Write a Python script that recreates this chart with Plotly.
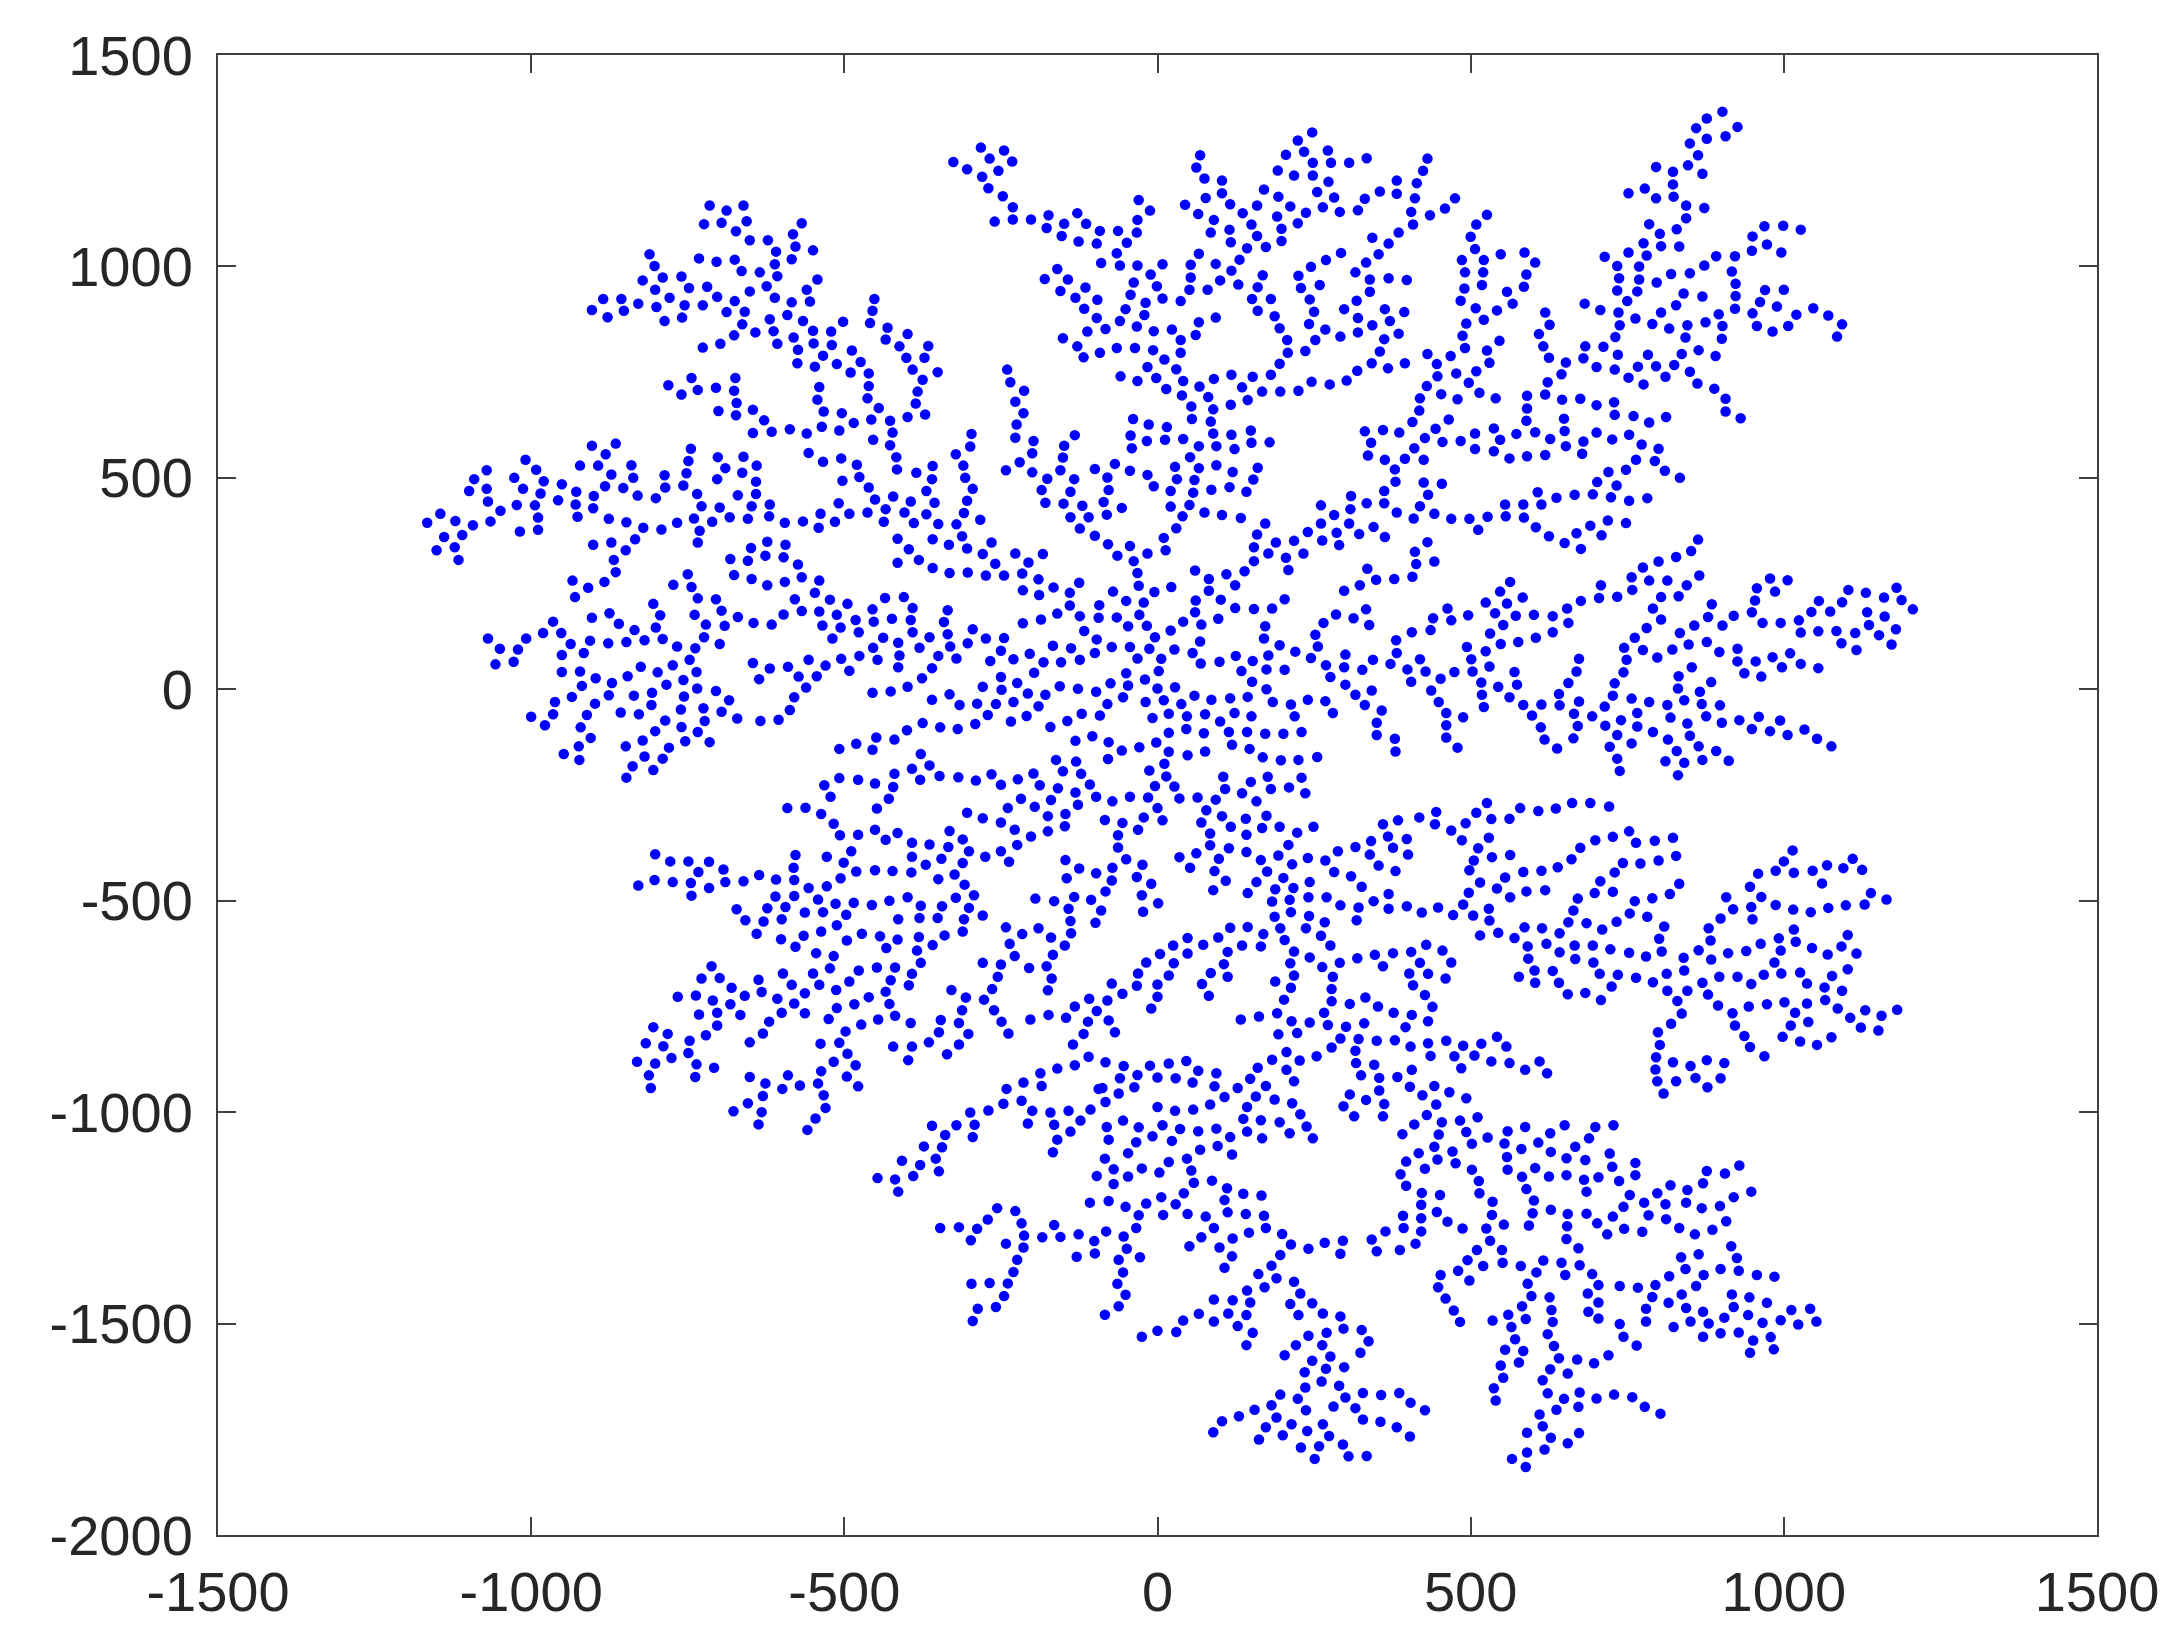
import plotly.graph_objects as go

# points, grouped by area of the plot (x, y)
upper_left = [(-715,1144),(-688,1132),(-661,1144),(-724,1100),(-696,1103),(-656,1107),(-673,1083),(-651,1062),(-622,1062),(-568,1102),
(-582,1076),(-578,1047),(-609,1035),(-550,1038),(-584,1017),(-611,1005),(-607,977),(-664,989),(-635,986),(-675,1016),
(-704,1011),(-732,1019),(-811,1029),(-803,1001),(-790,974),(-822,967),(-760,976),(-748,949),(-802,945),(-719,952),
(-703,928),(-779,926),(-651,941),(-624,953),(-611,926),(-675,918),(-584,915),(-555,917),(-560,945),(-543,969),
(-885,923),(-856,923),(-903,897),(-878,880),(-852,895),(-829,912),(-800,904),(-755,908),(-726,908),(-787,871),
(-759,879),(-688,892),(-659,893),(-663,863),(-619,875),(-591,885),(-566,871),(-550,848),(-521,846),(-502,869),
(-459,866),(-455,895),(-452,923),(-431,855),(-434,827),(-412,811),(-642,844),(-613,847),(-676,837),(-698,817),
(-726,808),(-607,817),(-581,832),(-574,803),(-549,818),(-520,814),(-534,789),(-488,801),(-474,774),(-575,771),
(-547,763),(-512,769),(-490,749),(-461,747),(-461,717),(-463,688),(-445,665),(-457,638),(-427,635),(-423,607),
(-454,590),(-427,577),(-417,549),(-416,520),(-540,715),(-543,685),(-533,657),(-504,653),(-485,630),(-536,621),
(-508,612),(-560,605),(-587,615),(-616,609),(-646,606),(-628,636),(-646,661),(-673,648),(-672,677),(-676,706),
(-674,736),(-705,713),(-701,658),(-744,736),(-734,708),(-781,719),(-760,697),(-557,559),(-534,538),(-505,546),
(-480,531),(-476,502),(-503,493),(-461,477),(-451,449),(-422,456),(-434,426),(-463,418),(-437,396),(-492,415),
(-509,440),(-515,396),(-538,415),(-541,382),(-566,397),(-595,394),(-620,409),(-619,437),(-648,433),(-641,462),
(-670,459),(-641,491),(-663,512),(-640,529),(-661,550),(-690,523),(-702,549),(-703,497),(-745,569),(-749,540),
(-752,511),(-757,482),(-735,462),(-728,433),(-699,430),(-683,407),(-654,403),(-711,396),(-740,404),(-731,375),
(-734,347),(-767,394),(-792,378),(-821,382),(-834,355),(-849,329),(-872,347),(-901,342),(-868,306),(-865,277),
(-883,254),(-909,240),(-934,257),(-848,395),(-876,403),(-926,408),(-901,428),(-929,437),(-928,467),(-900,457),
(-882,480),(-853,476),(-830,458),(-801,452),(-786,477),(-787,506),(-837,500),(-840,530),(-872,508),(-893,529),
(-922,529),(-881,556),(-865,581),(-903,576),(-957,447),(-951,485),(-980,492),(-985,463),(-992,519),(-1009,543),
(-1027,500),(-1013,474),(-1023,436),(-994,435),(-989,406),(-989,377),(-1018,373),(-1049,422),(-1065,397),(-1069,444),
(-1071,474),(-1071,518),(-1091,497),(-1099,469),(-1093,388),(-1110,365),(-1121,398),(-1145,415),(-1166,394),(-1139,360),
(-1151,329),(-1122,336),(-1116,306),(-623,349),(-594,342),(-649,334),(-626,316),(-597,312),(-682,308),(-654,304),
(-574,295),(-415,356),(-415,299),(-676,270),(-648,261),(-623,246),(-595,254),(-568,265),(-540,257),(-547,228),
(-750,272),(-773,247),(-744,242)]

middle_left = [(-930,218),(-805,202),(-734,215),(-705,213),(-579,213),(-523,212),(-495,202),(-435,216),(-794,175),(-875,180),
(-903,169),(-965,160),(-860,155),(-739,176),(-696,186),(-670,171),(-645,157),(-616,153),(-597,177),(-568,185),
(-540,184),(-512,176),(-482,164),(-455,189),(-453,160),(-424,167),(-535,151),(-506,146),(-477,135),(-835,140),
(-801,146),(-721,153),(-691,150),(-981,133),(-952,133),(-1008,120),(-1069,120),(-724,123),(-519,120),(-438,122),
(-414,110),(-937,107),(-906,115),(-877,109),(-848,112),(-819,116),(-790,119),(-767,101),(-738,97),(-699,107),
(-454,98),(-1050,96),(-1021,94),(-951,81),(-916,86),(-747,70),(-557,70),(-505,72),(-476,79),(-447,70),
(-412,80),(-1057,59),(-1028,65),(-646,62),(-619,49),(-590,53),(-530,56),(-492,44),(-414,52),(-774,57),
(-825,53),(-951,41),(-922,42),(-798,40),(-736,41),(-846,31),(-897,26),(-573,30),(-544,31),(-636,24),
(-757,22),(-871,15),(-784,11),(-919,8),(-561,4),(-735,2),(-705,-4),(-807,-8),(-455,-8),(-426,-5),
(-935,-18),(-876,-14),(-836,-15),(-756,-17),(-580,-19),(-684,-26),(-962,-30),(-898,-34),(-808,-37),(-761,-48),
(-725,-45),(-587,-49),(-696,-53),(-1000,-65),(-965,-59),(-911,-61),(-857,-55),(-828,-59),(-786,-74),(-723,-75),
(-671,-69),(-634,-75),(-605,-72),(-978,-85),(-921,-90),(-760,-89),(-802,-99),(-734,-101),(-905,-115),(-822,-121),
(-754,-123),(-715,-125),(-449,-114),(-420,-119),(-481,-129),(-924,-135),(-849,-135),(-780,-138),(-508,-141),(-455,-143),
(-948,-153),(-819,-159),(-790,-164),(-923,-167),(-838,-182),(-805,-191),(-848,-209),(-420,-200),(-508,-210),(-478,-214),
(-451,-223),(-532,-227),(-422,-231),(-522,-254),(-429,-259),(-591,-281),(-562,-280),(-448,-282),(-537,-295),(-517,-318),
(-451,-332),(-415,-340),(-507,-345),(-478,-344),(-434,-356),(-489,-383),(-802,-390),(-578,-392),(-528,-396),(-778,-407),
(-749,-407),(-716,-408),(-501,-410),(-581,-422),(-693,-426),(-733,-432),(-481,-431),(-451,-428),(-423,-430),(-636,-439),
(-506,-447),(-580,-451),(-609,-450),(-803,-451),(-774,-456),(-745,-458),(-690,-456),(-661,-454),(-829,-464),(-716,-470),
(-557,-470),(-528,-466),(-744,-488),(-610,-490),(-580,-489),(-542,-497),(-428,-500),(-514,-507),(-485,-505),(-456,-510),
(-672,-520),(-623,-518),(-594,-515),(-563,-528),(-534,-527),(-497,-533),(-658,-546),(-629,-549),(-600,-544),(-414,-544),
(-512,-558),(-640,-578),(-537,-573),(-601,-591),(-565,-583),(-472,-578),(-443,-584),(-415,-592),(-496,-594),(-578,-609),
(-433,-612),(-545,-624),(-517,-631),(-712,-655),(-523,-660),(-477,-665),(-448,-658),(-419,-658),(-550,-672),(-598,-672),
(-728,-684),(-699,-683),(-637,-687),(-426,-688),(-492,-691),(-584,-699),(-540,-699),(-680,-706),(-513,-711),(-632,-716),
(-563,-719),(-434,-715),(-766,-727),(-737,-724),(-659,-725),(-710,-736),(-607,-732),(-461,-728),(-682,-745),(-580,-743),
(-484,-745),(-428,-744),(-512,-754),(-732,-769),(-703,-765),(-666,-770),(-600,-765),(-563,-766),(-419,-772),(-525,-780),
(-446,-781),(-620,-786),(-473,-793),(-703,-795),(-805,-799),(-498,-809),(-782,-815),(-721,-818),(-630,-814),(-747,-831),
(-817,-837),(-789,-844),(-651,-835),(-538,-838),(-508,-836),(-422,-845)]

lower_left = [(-776,-872),(-831,-881),(-802,-885),(-749,-860),(-736,-887),(-708,-895),(-812,-913),(-809,-943),(-738,-917),(-651,-917),
(-626,-932),(-590,-913),(-599,-945),(-571,-937),(-542,-932),(-537,-903),(-517,-881),(-495,-862),(-482,-889),(-496,-916),
(-478,-939),(-533,-960),(-630,-962),(-654,-979),(-677,-998),(-632,-1000),(-637,-1029),(-530,-990),(-546,-1015),(-559,-1042),
(-398,-877),(-336,-863),(-110,-869),(-132,-889),(-160,-897),(-187,-908),(-214,-930),(-185,-938),(-241,-945),(-217,-973),
(-246,-980),(-270,-996),(-299,-1001),(-292,-1030),(-321,-1031),(-295,-1059),(-339,-1054),(-360,-1032),(-373,-1081),(-344,-1083),
(-354,-1110),(-408,-1115),(-379,-1125),(-349,-1140),(-390,-1151),(-447,-1156),(-419,-1159),(-414,-1188),(-200,-997),(-171,-1001),
(-142,-997),(-107,-994),(-207,-1027),(-165,-1030),(-123,-1020),(-139,-1046),(-160,-1065),(-167,-1095),(-97,-1151),(-108,-1214),
(-94,-945),(-256,-1227),(-227,-1234),(-271,-1254),(-217,-1263),(-347,-1274),(-317,-1272),(-288,-1276),(-298,-1303),(-213,-1292),
(-184,-1296),(-165,-1267),(-155,-1295),(-126,-1289),(-101,-1305),(-100,-1334),(-129,-1342),(-242,-1311),(-214,-1320),(-224,-1349),
(-230,-1378),(-239,-1405),(-268,-1404),(-297,-1406),(-245,-1435),(-258,-1461),(-287,-1465),(-295,-1494)]

upper_middle = [(-282,1281),(-245,1274),(-268,1255),(-232,1248),(-326,1247),(-304,1230),(-254,1226),(-280,1212),(-270,1185),(-247,1166),
(-231,1140),(-231,1111),(-260,1106),(-202,1111),(-174,1121),(-177,1091),(-149,1101),(-153,1072),(-128,1126),(-114,1101),
(-92,1084),(-126,1059),(-97,1054),(-63,1084),(-33,1080),(-32,1110),(-12,1132),(-30,1157),(-49,1056),(-65,1031),
(-90,1008),(-60,1002),(-32,1002),(8,1005),(-11,981),(-38,962),(-1,953),(-43,933),(8,924),(-19,914),
(37,918),(-51,899),(-21,885),(-60,871),(-33,858),(-6,847),(23,851),(-83,852),(-112,846),(-97,878),
(-117,900),(-96,921),(-131,926),(-115,950),(-155,942),(-143,969),(-180,970),(-160,994),(-151,830),(-128,811),
(-118,785),(-92,796),(-65,807),(-36,807),(-7,802),(37,826),(37,796),(61,838),(66,868),(93,879),
(11,780),(30,757),(-16,762),(-2,736),(-59,740),(-32,729),(41,729),(14,710),(39,695),(67,716),
(90,734),(81,691),(54,669),(89,662),(117,673),(55,639),(85,633),(118,744),(152,739),(135,714),
(167,704),(144,684),(181,744),(196,704),(225,706),(246,727),(275,721),(302,730),(319,753),(342,771),
(368,759),(195,770),(208,796),(207,826),(195,854),(187,882),(160,895),(181,923),(151,923),(160,951),
(168,979),(129,957),(100,967),(80,945),(118,990),(131,1016),(143,1043),(173,1046),(198,1060),(198,1089),
(191,1118),(224,1102),(237,1127),(212,1142),(193,1165),(170,1182),(159,1072),(150,1099),(136,1126),(159,1144),
(116,1147),(103,1173),(103,1203),(75,1208),(62,1234),(68,1263),(77,1162),(44,1146),(65,1124),(90,1110),
(115,1087),(85,1080),(117,1057),(66,1030),(53,1004),(93,1006),(53,974),(51,945),(192,1227),(218,1215),
(248,1215),(205,1264),(234,1271),(224,1298),(247,1317),(272,1274),(248,1245),(277,1245),(306,1245),(334,1256),
(273,1200),(255,1176),(282,1163),(264,1140),(291,1129),(320,1133),(331,1160),(355,1177),(382,1203),(382,1172),
(385,1080),(369,1054),(343,1068),(353,1029),(333,1009),(293,1032),(269,1015),(245,999),(225,978),(316,986),
(339,969),(369,972),(259,956),(229,949),(243,922),(339,940),(318,919),(298,899),(250,893),(363,899),
(320,878),(371,871),(242,864),(268,851),(343,861),(292,834),(320,844),(362,828),(252,826),(236,800),
(355,799),(385,841),(-39,639),(-14,626),(15,620),(-43,600),(-17,587),(12,590),(41,592),(-41,570),
(89,605),(118,602),(149,612),(150,583),(179,584),(123,568),(94,575),(66,575),(52,549),(28,526),
(66,523),(94,530),(31,497),(59,495),(120,514),(160,524),(153,496),(142,467),(115,478),(86,472),
(57,465),(21,469),(-6,480),(51,436),(21,432),(40,409),(75,418),(103,412),(133,405),(30,381),
(10,358),(13,329),(-16,321),(-44,339),(-64,316),(-38,303),(-32,275),(-79,343),(-100,363),(-124,380),
(-139,407),(-110,407),(-81,413),(-57,429),(-86,443),(-120,434),(-150,439),(-179,441),(-185,471),(-139,467),
(-78,471),(-176,498),(-133,497),(-80,501),(-155,518),(-100,521),(-68,533),(-44,517),(-16,507),(-151,548),
(-149,576),(-132,601),(-200,558),(-198,587),(-200,513),(-220,537),(-242,518),(-227,595),(-225,626),(-214,653),
(-227,680),(-213,706),(-235,726),(-240,756),(-399,840),(-366,812),(-401,784),(-372,784),(-391,756),(-351,750),
(-375,732),(-383,704),(-386,676),(-399,644),(-371,650),(-297,604),(-299,574),(-322,556),(-310,529),(-307,500),
(-295,474),(-304,446),(-309,417),(-283,401),(-321,390),(-312,362),(-304,333),(-265,347),(-333,342),(-359,355),
(-350,391),(-369,414),(-389,393),(-404,418),(-356,441),(-394,444),(-369,469),(-360,497),(-359,528),(-385,512),
(-397,331),(-381,306),(-359,287),(-332,275),(-303,276),(-274,269),(-245,269),(-279,320),(-259,297),(-227,321),
(-206,300),(-183,320),(-216,274),(-190,260),(-166,241),(-215,234),(-189,223),(-140,228),(-125,252),(-71,231),
(-30,245),(-5,230),(22,242),(331,610),(360,613),(386,607),(341,583),(336,553),(363,543),(379,520),
(380,491),(362,469),(309,457),(334,440),(362,440),(382,418),(308,426),(261,435),(282,412),(261,392),
(306,392),(345,384),(286,370),(322,367),(363,360),(240,372),(263,352),(290,341),(218,351),(189,347),
(172,392),(159,366),(154,336),(177,321),(205,311),(233,321),(154,303),(139,279),(209,282),(110,272),
(60,281),(82,261),(124,246),(82,233),(335,285),(323,246),(349,259),(378,261),(298,233)]

centre = [(-405,218),(-391,192),(-335,187),(-394,164),(-341,159),(-391,135),(-335,130),(-295,142),(-303,109),(-274,120),
(-245,121),(-364,123),(-380,98),(-331,101),(-250,91),(-350,79),(-321,73),(-267,67),(-230,71),(-204,84),
(-182,64),(-167,103),(-138,97),(-154,64),(-124,70),(-100,86),(-73,100),(-44,100),(-13,96),(-97,118),
(-117,138),(-94,169),(-65,170),(-29,176),(-47,149),(-17,150),(-4,123),(21,139),(41,160),(60,182),
(70,153),(97,167),(68,113),(27,94),(56,86),(6,72),(-32,73),(2,43),(69,61),(99,65),
(125,79),(152,67),(177,80),(174,47),(203,46),(134,43),(195,104),(220,89),(170,120),(172,149),
(124,192),(154,190),(183,191),(203,213),(61,210),(101,212),(333,189),(313,168),(338,152),(285,177),
(265,157),(252,129),(256,101),(245,74),(269,57),(300,82),(298,52),(327,46),(344,70),(372,60),
(381,116),(382,86),(276,29),(300,11),(316,-13),(342,-3),(331,-37),(358,-50),(350,-79),(350,-108),
(379,-117),(380,-147),(280,-56),(268,-28),(240,-25),(213,-36),(219,-64),(184,-30),(174,0),(151,18),
(144,-18),(150,-64),(116,-21),(123,-56),(86,-25),(59,-15),(76,-59),(100,-76),(114,-101),(143,-101),
(172,-105),(201,-105),(230,-101),(119,-131),(147,-141),(168,-161),(197,-168),(225,-167),(255,-160),(38,-35),
(47,-64),(18,-58),(-8,-68),(46,-94),(18,-103),(74,-104),(76,-147),(48,-156),(18,-148),(-2,-126),
(-29,-137),(-57,-145),(-78,-125),(-104,-111),(-131,-122),(-79,-165),(-130,-171),(-162,-167),(-151,-194),(-122,-200),
(-198,-199),(-223,-213),(-188,-227),(-250,-226),(-265,-201),(-290,-216),(-318,-208),(-348,-205),(-379,-214),(-392,-188),
(-364,-180),(-378,-153),(-108,-225),(-159,-234),(-131,-244),(-98,-254),(-72,-265),(-44,-254),(-15,-256),(-4,-229),
(14,-206),(-13,-192),(11,-176),(27,-230),(35,-258),(64,-256),(93,-261),(108,-236),(105,-207),(135,-246),
(149,-219),(158,-265),(176,-207),(181,-236),(210,-232),(230,-209),(236,-246),(0,-281),(-170,-262),(-127,-273),
(-218,-259),(-196,-278),(-239,-281),(-147,-295),(-175,-300),(-304,-292),(-279,-305),(-250,-315),(-148,-324),(-228,-332),
(-175,-336),(-202,-348),(-332,-335),(-311,-355),(-392,-363),(-364,-367),(-334,-373),(-224,-368),(-301,-383),(-250,-383),
(-275,-396),(-392,-396),(-345,-401),(-237,-408),(-311,-411),(-370,-415),(-393,-433),(-324,-438),(-350,-449),(-308,-462),
(-293,-487),(-399,-492),(-322,-493),(-378,-512),(-344,-513),(-301,-517),(-279,-535),(-380,-541),(-351,-541),(-309,-544),
(-311,-573),(-340,-582),(-381,-586),(-359,-605),(-384,-618),(-378,-647),(-392,-673),(-397,-700),(-84,-309),(-56,-316),
(-22,-303),(8,-310),(-31,-332),(-63,-345),(-63,-374),(-50,-402),(-24,-415),(-72,-422),(-33,-444),(-73,-452),
(-10,-460),(-83,-478),(-25,-487),(1,-506),(-23,-526),(-106,-498),(-90,-523),(-99,-552),(-147,-404),(-125,-424),
(-98,-435),(-145,-447),(-133,-491),(-195,-495),(-165,-501),(-142,-519),(-139,-548),(-242,-563),(-216,-579),(-190,-565),
(-170,-587),(-138,-577),(-148,-606),(-236,-602),(-167,-628),(-228,-631),(-279,-647),(-250,-651),(-205,-659),(-177,-655),
(-255,-680),(-169,-684),(-264,-709),(-329,-711),(-175,-712),(-306,-729),(-277,-734),(-312,-759),(-261,-759),(-346,-782),
(-317,-789),(-249,-786),(-394,-789),(-349,-811),(-302,-815),(-238,-814),(-365,-835),(-317,-840),(-392,-845),(-140,198),
(-93,199),(-124,173),(-215,156),(-186,165),(-160,179),(-22,205),(-50,209),(-250,29),(-197,39),(-249,-1),
(-224,15),(-279,6),(-376,26),(-360,50),(-399,6),(-207,-10),(-179,-13),(-156,7),(-127,1),(-98,-6),
(-75,14),(-47,9),(-50,38),(-20,23),(0,2),(28,5),(-55,-19),(-80,-35),(-19,-30),(10,-26),
(-360,-25),(-332,-12),(-316,-37),(-288,-34),(-258,-35),(-230,-30),(-190,-40),(-271,-61),(-209,-63),(-234,-76),
(-291,-82),(-375,-80),(-347,-90),(-319,-94),(-400,-97),(-171,-89),(-144,-75),(-121,-58),(-92,-62)]

centre_right = [(360,-319),(384,-310),(368,-348),(341,-359),(316,-373),(376,-375),(288,-383),(339,-391),(268,-405),(240,-399),
(353,-417),(282,-432),(380,-430),(309,-442),(326,-467),(249,-325),(223,-339),(195,-325),(167,-328),(174,-299),
(141,-306),(142,-344),(103,-300),(117,-325),(78,-286),(70,-315),(84,-341),(84,-369),(114,-376),(142,-385),
(165,-404),(193,-393),(209,-368),(215,-414),(175,-431),(201,-446),(62,-388),(35,-397),(52,-422),(98,-401),
(91,-430),(109,-453),(89,-475),(158,-456),(144,-482),(188,-473),(217,-470),(243,-456),(241,-492),(270,-492),
(211,-498),(183,-502),(213,-527),(187,-538),(242,-536),(292,-511),(321,-516),(318,-546),(345,-501),(369,-484),
(369,-519),(267,-551),(237,-565),(196,-565),(261,-583),(203,-593),(169,-579),(144,-562),(116,-564),(97,-587),
(165,-608),(135,-606),(73,-604),(48,-588),(25,-606),(48,-625),(4,-626),(26,-648),(-18,-646),(-31,-672),
(18,-677),(-33,-701),(0,-698),(-73,-696),(-56,-720),(0,-727),(-10,-755),(-80,-736),(-109,-732),(-132,-750),
(-97,-761),(-174,-770),(-203,-781),(-146,-777),(-111,-786),(-78,-783),(-68,-811),(-118,-815),(-135,-840),(112,-621),
(106,-650),(85,-671),(112,-680),(71,-697),(82,-725),(212,-648),(218,-620),(243,-634),(263,-657),(291,-647),
(276,-606),(319,-636),(347,-628),(376,-624),(360,-655),(218,-677),(280,-680),(188,-691),(213,-706),(278,-709),
(202,-734),(278,-738),(307,-744),(332,-729),(352,-750),(377,-765),(266,-765),(191,-766),(162,-774),(133,-781),
(214,-785),(243,-788),(272,-794),(330,-790),(301,-798),(193,-816),(223,-813),(292,-826),(321,-827),(350,-831),
(379,-830),(278,-847)]

upper_right = [(902,1366),(877,1350),(860,1327),(926,1330),(907,1308),(877,1302),(850,1291),(863,1263),(847,1239),(796,1235),
(823,1224),(870,1219),(823,1194),(752,1173),(778,1184),(796,1161),(824,1165),(844,1144),(873,1138),(844,1114),
(785,1100),(829,1088),(802,1077),(776,1055),(804,1048),(833,1047),(752,1033),(781,1026),(714,1023),(734,1001),
(769,1000),(737,972),(769,969),(797,962),(820,982),(850,984),(873,1002),(892,1024),(922,1024),(949,1037),
(950,1071),(969,1095),(999,1096),(1027,1087),(973,1052),(996,1033),(917,988),(923,959),(923,930),(922,900),
(734,943),(766,941),(750,918),(840,936),(870,929),(828,908),(804,891),(682,912),(707,897),(736,891),
(763,877),(738,861),(790,864),(817,853),(846,861),(875,868),(896,887),(902,859),(843,832),(901,829),
(731,833),(950,889),(962,916),(970,944),(1000,945),(989,905),(1020,886),(1047,901),(1071,884),(1093,863),
(1085,834),(957,859),(982,846),(1007,859),(683,811),(712,810),(735,791),(680,783),(701,762),(730,756),
(752,737),(776,721),(767,763),(783,791),(796,764),(811,739),(825,767),(837,793),(864,802),(891,788),
(850,751),(862,723),(889,711),(907,687),(907,657),(931,641),(431,1255),(424,1226),(414,1197),(411,1161),
(405,1129),(435,1121),(459,1137),(475,1161),(408,1099),(526,1122),(509,1099),(500,1070),(507,1041),(548,1029),
(586,1033),(603,1009),(486,1015),(521,1015),(491,986),(520,986),(589,981),(398,968),(490,948),(518,956),
(585,952),(558,940),(484,919),(567,912),(508,901),(542,896),(394,892),(521,874),(619,891),(626,862),
(493,865),(609,840),(487,836),(546,824),(616,811),(491,807),(526,801),(431,793),(468,788),(625,784),
(395,771),(446,769),(530,772),(652,773),(509,752),(477,747),(447,740),(645,745),(497,725),(623,726),
(430,717),(514,701),(453,698),(619,697),(590,694),(479,686),(540,688),(646,685),(675,687),(419,688),
(729,679),(701,672),(590,664),(418,659),(730,649),(760,646),(785,631),(812,644),(465,638),(649,640),
(589,635),(407,632),(444,616),(537,617),(650,611),(507,605),(603,608),(573,604),(701,607),(753,602),
(427,594),(547,590),(627,592),(726,591),(455,585),(484,587),(680,586),(773,579),(410,570),(652,575),
(800,569),(507,568),(537,563),(619,554),(678,557),(590,551),(562,546),(395,545),(425,543),(764,543),
(794,540),(748,519),(720,514),(810,517),(834,500),(425,489),(454,486),(702,490),(733,482),(432,460),
(607,466),(695,461),(666,460),(637,453),(724,454),(782,452),(753,446),(555,437),(584,437),(613,437),
(419,433),(442,415),(409,404),(469,403),(498,403),(527,408),(556,409),(585,406),(512,377),(719,399),
(748,393),(691,387),(604,383),(669,369),(709,364),(625,362),(650,346),(676,332),(431,348),(411,325),
(442,302),(413,296),(407,266),(863,354),(852,327),(828,313),(800,302),(775,288),(757,265),(785,257),
(814,257),(845,246),(865,269),(708,246),(758,235),(563,254),(547,231)]

right_middle = [(978,262),(1006,258),(957,239),(986,231),(1103,235),(1180,240),(1131,228),(583,217),(804,218),(832,220),
(705,216),(734,219),(676,209),(1160,217),(954,210),(1056,209),(1188,211),(1093,206),(885,201),(524,205),
(558,203),(463,191),(654,191),(791,191),(1206,189),(539,180),(949,182),(1044,183),(1074,184),(1133,182),
(572,174),(601,176),(631,173),(440,168),(496,175),(920,174),(879,171),(1161,172),(469,163),(804,165),
(966,157),(995,157),(1024,163),(656,157),(552,152),(902,151),(857,151),(1136,152),(781,145),(1179,142),
(406,135),(436,140),(531,132),(631,135),(834,133),(1027,134),(1055,137),(1084,138),(1114,133),(1152,128),
(604,122),(762,122),(576,112),(877,112),(1092,109),(1172,106),(548,107),(848,106),(494,100),(745,98),
(822,94),(926,96),(775,93),(524,90),(1116,93),(897,88),(1010,85),(501,71),(798,75),(673,72),
(419,71),(749,70),(926,66),(955,66),(982,76),(1027,60),(997,52),(530,54),(853,52),(1055,50),
(399,47),(428,42),(503,42),(474,41),(570,41),(669,42),(744,40),(937,38),(964,30),(832,31),
(452,25),(405,18),(517,16),(656,15),(730,14),(884,17),(574,11),(544,6),(831,2),(437,-3),
(641,-11),(866,-6),(518,-13),(562,-19),(727,-15),(757,-22),(449,-30),(673,-29),(841,-26),(785,-30),
(584,-37),(613,-36),(642,-38),(869,-35),(814,-37),(898,-38),(521,-42),(714,-41),(461,-56),(665,-58),
(598,-62),(766,-56),(488,-66),(694,-64),(819,-67),(876,-64),(960,-65),(740,-73),(929,-73),(994,-74),
(901,-79),(846,-81),(461,-85),(612,-90),(671,-87),(715,-86),(766,-88),(949,-94),(978,-99),(791,-101),
(734,-108),(850,-110),(1006,-108),(1033,-95),(461,-114),(618,-119),(664,-116),(815,-119),(1053,-117),(757,-128),
(479,-138),(638,-140),(722,-136),(864,-135),(1076,-135),(829,-146),(892,-146),(734,-164),(811,-170),(841,-174),
(870,-167),(912,-169),(738,-193),(831,-203)]

lower_right = [(526,-269),(662,-269),(691,-269),(721,-277),(636,-282),(608,-288),(579,-281),(445,-290),(509,-292),(418,-303),
(443,-319),(492,-317),(533,-307),(562,-306),(469,-334),(398,-354),(486,-357),(529,-351),(753,-336),(727,-349),
(699,-357),(764,-363),(794,-358),(823,-351),(512,-376),(675,-375),(1014,-381),(400,-391),(534,-397),(563,-392),
(828,-394),(505,-405),(661,-402),(743,-411),(771,-412),(800,-405),(1000,-407),(1110,-401),(639,-421),(1069,-416),
(498,-428),(584,-432),(613,-429),(987,-429),(1016,-434),(1046,-429),(1095,-423),(1125,-427),(730,-433),(959,-436),
(555,-445),(707,-454),(515,-457),(1061,-459),(833,-460),(946,-467),(542,-471),(619,-475),(589,-478),(497,-481),
(698,-482),(727,-479),(818,-484),(1139,-482),(563,-492),(790,-494),(671,-495),(908,-492),(964,-491),(1164,-497),
(398,-513),(422,-528),(448,-516),(488,-509),(472,-534),(504,-535),(529,-519),(530,-547),(762,-501),(919,-520),
(948,-515),(987,-510),(1015,-521),(1043,-527),(1071,-517),(1099,-511),(1129,-509),(664,-523),(754,-530),(782,-538),
(899,-542),(950,-544),(656,-551),(685,-553),(733,-550),(809,-561),(586,-563),(614,-565),(710,-568),(880,-565),
(1016,-568),(642,-577),(544,-576),(515,-582),(570,-588),(801,-590),(1102,-581),(883,-594),(992,-589),(1019,-597),
(621,-602),(591,-608),(666,-606),(695,-606),(723,-615),(963,-602),(1045,-612),(1092,-608),(864,-617),(805,-620),
(642,-622),(753,-623),(911,-624),(940,-619),(995,-618),(1070,-627),(1116,-625),(780,-632),(840,-635),(884,-639),
(592,-637),(667,-638),(696,-646),(985,-646),(1102,-662),(841,-665),(602,-665),(631,-666),(706,-673),(735,-675),
(813,-673),(968,-675),(996,-672),(1026,-670),(1077,-678),(577,-680),(764,-682),(897,-680),(926,-680),(791,-693),
(870,-694),(603,-694),(641,-694),(948,-697),(1037,-696),(725,-703),(1065,-705),(814,-713),(846,-713),(1093,-713),
(655,-721),(683,-718),(879,-722),(708,-735),(830,-737),(1066,-735),(895,-748),(944,-750),(973,-745),(1001,-740),
(1037,-743),(1086,-755),(1130,-759),(1181,-758),(918,-766),(837,-767),(1018,-765),(1156,-772),(1106,-777),(1039,-787),
(922,-795),(820,-791),(1011,-795),(1123,-800),(1151,-807),(1076,-823),(937,-820),(998,-822),(799,-811),(1026,-833),
(1053,-841),(802,-841),(946,-846),(429,-604),(405,-621),(455,-618),(469,-646),(419,-647),(402,-672),(432,-673),
(460,-684),(408,-700),(427,-723),(439,-751),(406,-770),(432,-785),(396,-799),(542,-822),(461,-831),(432,-837),
(517,-838),(488,-843),(404,-845),(557,-845)]

bottom_middle = [(316,-855),(254,-868),(206,-858),(227,-878),(183,-876),(160,-895),(206,-900),(148,-921),(218,-927),(173,-938),
(128,-943),(91,-939),(94,-908),(107,-964),(157,-963),(187,-970),(215,-979),(84,-982),(143,-988),(228,-1005),
(137,-1016),(165,-1019),(195,-1024),(238,-1034),(143,-1046),(211,-1050),(167,-1062),(248,-1062),(-83,-882),(-54,-891),
(-12,-890),(18,-885),(46,-879),(65,-902),(-32,-912),(-60,-920),(0,-918),(29,-920),(56,-930),(-88,-943),
(-37,-941),(-62,-956),(-83,-976),(0,-988),(28,-997),(57,-994),(-55,-1020),(-81,-1035),(-30,-1036),(8,-1031),
(36,-1040),(65,-1045),(94,-1039),(116,-1059),(-8,-1057),(-78,-1065),(-34,-1071),(23,-1068),(96,-1080),(68,-1089),
(119,-1100),(-47,-1097),(-84,-1110),(47,-1110),(18,-1118),(-70,-1135),(-25,-1133),(54,-1138),(3,-1143),(-47,-1152),
(-70,-1170),(58,-1167),(87,-1162),(111,-1180),(137,-1193),(166,-1197),(107,-1208),(42,-1192),(6,-1201),(-78,-1210),
(-18,-1216),(29,-1218),(-51,-1224),(112,-1237),(141,-1241),(170,-1245),(-30,-1244),(9,-1243),(48,-1241),(77,-1247),
(90,-1274),(-34,-1274),(173,-1274),(199,-1288),(146,-1285),(-82,-1282),(-54,-1294),(120,-1299),(70,-1296),(51,-1317),
(99,-1320),(-49,-1323),(213,-1313),(241,-1323),(267,-1309),(296,-1304),(292,-1335),(196,-1338),(119,-1341),(-28,-1343),
(-62,-1349),(182,-1363),(107,-1368),(-55,-1379),(161,-1383),(190,-1393),(218,-1401),(-64,-1406),(171,-1414),(143,-1422),
(228,-1429),(-51,-1432),(90,-1443),(120,-1445),(148,-1450),(247,-1452),(212,-1454),(-62,-1459),(66,-1477),(113,-1476),
(142,-1480),(225,-1480),(264,-1476),(292,-1483),(-84,-1479),(41,-1493),(90,-1495),(128,-1506),(297,-1512),(326,-1515),
(0,-1517),(30,-1520),(-25,-1531),(152,-1522),(270,-1522),(241,-1529),(337,-1542),(142,-1551),(221,-1551),(263,-1551),
(324,-1569),(203,-1575),(276,-1578),(247,-1588),(298,-1603),(269,-1607),(235,-1615),(262,-1637),(290,-1647),(236,-1651),
(196,-1668),(328,-1664),(357,-1669),(386,-1664),(224,-1678),(300,-1675),(404,-1687),(427,-1705),(182,-1693),(316,-1700),
(281,-1696),(237,-1705),(155,-1704),(130,-1719),(190,-1722),(328,-1727),(103,-1731),(356,-1732),(214,-1738),(264,-1738),
(382,-1745),(173,-1745),(239,-1754),(89,-1757),(200,-1764),(274,-1766),(403,-1767),(162,-1774),(296,-1786),(229,-1793),
(258,-1790),(305,-1814),(334,-1813),(251,-1820)]

bottom_right = [(364,-1282),(342,-1301),(350,-1329),(387,-1326),(412,-1311),(421,-1282),(393,-1274),(421,-1251),(392,-1245),(446,-1236),
(463,-1259),(487,-1275),(421,-1219),(422,-1191),(451,-1196),(397,-1174),(388,-1147),(427,-1134),(397,-1117),(417,-1097),
(447,-1112),(476,-1121),(471,-1093),(502,-1136),(513,-1163),(514,-1192),(535,-1212),(534,-1243),(553,-1266),(525,-1275),
(531,-1304),(550,-1326),(510,-1326),(495,-1350),(480,-1375),(551,-1356),(520,-1364),(498,-1398),(452,-1385),(448,-1414),
(460,-1441),(473,-1469),(483,-1496),(442,-1082),(449,-1053),(454,-1024),(483,-1020),(502,-1075),(493,-1047),(511,-1012),
(527,-1060),(410,-1029),(391,-1052),(430,-1007),(445,-982),(423,-960),(442,-938),(466,-953),(493,-967),(403,-940),
(383,-917),(406,-900),(346,-888),(317,-884),(325,-913),(354,-919),(354,-949),(307,-958),(333,-971),(362,-981),
(297,-986),(314,-1010),(360,-1010),(436,-867),(485,-896),(474,-868),(506,-866),(533,-880),(562,-884),(587,-900),
(610,-880),(622,-908),(559,-1045),(587,-1035),(627,-1050),(650,-1031),(554,-1074),(608,-1072),(699,-1035),(581,-1087),
(667,-1082),(689,-1062),(628,-1094),(558,-1106),(653,-1109),(683,-1113),(559,-1136),(603,-1132),(582,-1153),(625,-1152),
(653,-1149),(681,-1160),(704,-1154),(589,-1182),(685,-1188),(601,-1209),(628,-1231),(599,-1239),(655,-1241),(685,-1240),
(593,-1268),(654,-1270),(702,-1263),(653,-1300),(672,-1322),(616,-1351),(645,-1356),(580,-1364),(605,-1379),(674,-1362),
(651,-1385),(694,-1383),(591,-1406),(704,-1409),(597,-1435),(626,-1438),(687,-1429),(704,-1450),(582,-1459),(629,-1468),
(688,-1472),(560,-1479),(588,-1489),(631,-1496),(535,-1493),(704,-1488),(565,-1508),(623,-1525),(571,-1537),(633,-1553),
(555,-1562),(584,-1565),(641,-1582),(670,-1585),(697,-1594),(548,-1599),(577,-1592),(627,-1608),(655,-1618),(552,-1628),
(615,-1634),(537,-1653),(623,-1665),(674,-1663),(540,-1682),(649,-1678),(701,-1677),(672,-1697),(637,-1704),(610,-1715),
(615,-1743),(590,-1758),(673,-1759),(628,-1770),(655,-1783),(618,-1798),(590,-1805),(566,-1820),(588,-1839)]

far_bottom_right = [(969,-868),(796,-870),(823,-882),(877,-877),(905,-884),(851,-891),(795,-899),(859,-919),(899,-920),(798,-927),
(828,-927),(878,-941),(808,-956),(728,-1031),(722,-1098),(763,-1120),(726,-1129),(929,-1126),(877,-1139),(906,-1145),
(763,-1149),(737,-1163),(871,-1168),(819,-1173),(846,-1184),(948,-1188),(798,-1192),(754,-1196),(920,-1201),(777,-1214),
(844,-1214),(811,-1218),(898,-1222),(744,-1224),(869,-1227),(784,-1244),(727,-1247),(812,-1253),(908,-1258),(833,-1274),
(745,-1276),(886,-1278),(774,-1283),(718,-1289),(858,-1289),(916,-1317),(864,-1336),(836,-1343),(925,-1345),(843,-1371),
(899,-1371),(928,-1375),(872,-1385),(957,-1385),(985,-1389),(817,-1388),(738,-1411),(767,-1415),(795,-1409),(860,-1411),
(790,-1437),(917,-1431),(837,-1431),(945,-1438),(973,-1451),(816,-1451),(920,-1461),(780,-1465),(844,-1463),(1012,-1468),
(1042,-1465),(871,-1472),(943,-1480),(905,-1486),(780,-1495),(851,-1495),(966,-1498),(995,-1492),(1052,-1495),(738,-1501),
(880,-1500),(1023,-1502),(824,-1508),(899,-1523),(928,-1521),(871,-1531),(744,-1531),(979,-1532),(951,-1540),(765,-1552),
(984,-1561),(946,-1569),(720,-1575),(729,-1668),(758,-1674),(778,-1697),(803,-1713)]

x_ticks = [-1500, -1000, -500, 0, 500, 1000, 1500]
y_ticks = [-2000, -1500, -1000, -500, 0, 500, 1000, 1500]

groups = [upper_left, middle_left, lower_left, upper_middle, centre, centre_right, upper_right,
          right_middle, lower_right, bottom_middle, bottom_right, far_bottom_right]
points = [p for g in groups for p in g]
x = [p[0] for p in points]
y = [p[1] for p in points]

fig = go.Figure()
fig.add_trace(go.Scatter(x=x, y=y, mode='markers',
                         marker=dict(color='#0000ff', size=10.5, line=dict(width=0))))

axis_style = dict(showgrid=False, zeroline=False, showline=True, linecolor='#404040', linewidth=2,
                  mirror='ticks', ticks='inside', ticklen=18, tickwidth=2, tickcolor='#404040',
                  tickfont=dict(family='Liberation Sans', size=56, color='#262626'))
fig.update_xaxes(range=[-1500, 1500], tickvals=x_ticks, ticktext=[str(t) for t in x_ticks],
                 ticklabelstandoff=7, **axis_style)
fig.update_yaxes(range=[-2000, 1500], tickvals=y_ticks, ticktext=[str(t) for t in y_ticks],
                 ticklabelstandoff=12, **axis_style)
fig.update_layout(width=2182, height=1651, showlegend=False, plot_bgcolor='white', paper_bgcolor='white',
                  margin=dict(l=218, r=85, t=55, b=116))

fig.write_html("out.html", config=dict(displayModeBar=False), post_script="document.body.style.margin='0';")
